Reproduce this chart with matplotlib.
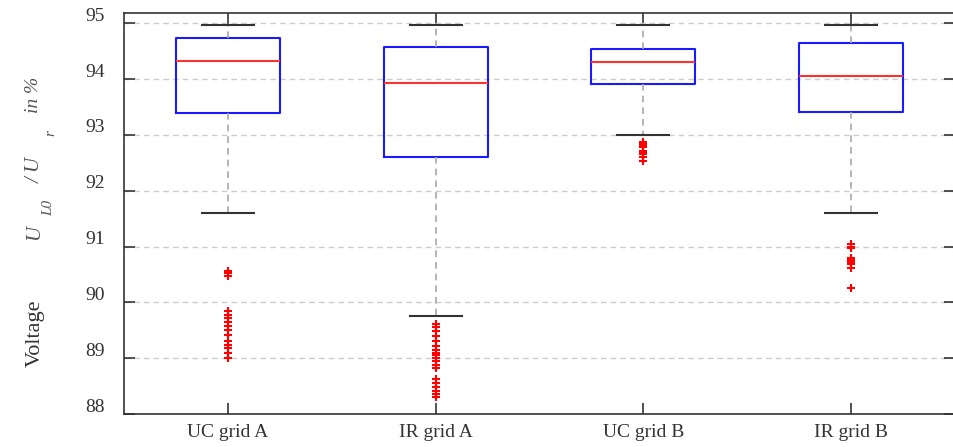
import numpy as np
import matplotlib
matplotlib.use('Agg')
import matplotlib.pyplot as plt
from matplotlib.transforms import ScaledTranslation

plt.rcParams['font.family'] = ['Liberation Serif', 'DejaVu Serif']

# data (voltage in %)
labels = ['UC grid A', 'IR grid A', 'UC grid B', 'IR grid B']
medians = [94.33, 93.94, 94.30, 94.06]
q1 = [93.39, 92.61, 93.91, 93.42]
q3 = [94.73, 94.57, 94.54, 94.64]
whis_low = [91.61, 89.75, 93.00, 91.61]
whis_high = [94.97, 94.97, 94.97, 94.97]
outliers_uc_a = [90.57, 90.52, 90.47, 89.85, 89.78, 89.72, 89.65, 89.58, 89.50,
                 89.42, 89.30, 89.24, 89.18, 89.10, 89.00]
outliers_ir_a = [89.62, 89.55, 89.48, 89.40, 89.30, 89.22, 89.15, 89.10, 89.05,
                 89.00, 88.95, 88.88, 88.83, 88.62, 88.55, 88.48, 88.42, 88.36, 88.30]
outliers_uc_b = [92.88, 92.84, 92.81, 92.78, 92.72, 92.69, 92.66, 92.60, 92.53]
outliers_ir_b = [91.04, 91.00, 90.97, 90.80, 90.77, 90.74, 90.71, 90.68, 90.62, 90.25]
outliers = [outliers_uc_a, outliers_ir_a, outliers_uc_b, outliers_ir_b]

stats = []
for i in range(len(labels)):
    stats.append(dict(med=medians[i], q1=q1[i], q3=q3[i],
                      whislo=whis_low[i], whishi=whis_high[i],
                      fliers=outliers[i], label=labels[i]))

fig = plt.figure(figsize=(9.54, 4.47), dpi=100)
ax = fig.add_axes([124 / 954, 1 - 414 / 447, 831 / 954, 400.7 / 447])

ax.bxp(stats, positions=[1, 2, 3, 4], widths=0.5, showfliers=True,
       boxprops=dict(color='#1a1aff', linewidth=1.5),
       medianprops=dict(color='#ff3030', linewidth=1.5),
       whiskerprops=dict(color='#a8a8a8', linewidth=1.2, linestyle=(0, (4, 3))),
       capprops=dict(color='#333333', linewidth=1.5),
       capwidths=0.25,
       flierprops=dict(marker='+', markeredgecolor='red', markersize=6,
                       markeredgewidth=1.5, linestyle='none'))

ax.set_xlim(0.5, 4.5)
ax.set_ylim(88.03, 95.18)
ax.set_yticks(np.arange(88, 96, 1))
ax.yaxis.grid(True, color='#cccccc', linestyle=(0, (4, 3)), linewidth=1)
ax.set_axisbelow(True)

for sp in ax.spines.values():
    sp.set_color('#333333')
    sp.set_linewidth(1.2)

ax.tick_params(axis='both', direction='in', length=8, width=1.2, color='#333333',
               top=True, right=True, labelsize=14, labelcolor='#333333')
ax.tick_params(axis='y', pad=14)
ax.tick_params(axis='x', pad=7)
for t in ax.get_yticklabels():
    t.set_transform(t.get_transform() + ScaledTranslation(0, 9 / 100, fig.dpi_scale_trans))

# y label pieces, placed as in the original export
fig.text(35 / 954, 1 - 333 / 447, 'Voltage', rotation=90, ha='center', va='center',
         fontsize=16, color='#333333')
fig.text(35 / 954, 1 - 232 / 447, 'U', rotation=90, ha='center', va='center',
         fontsize=15, color='#555555', style='italic')
fig.text(49 / 954, 1 - 208 / 447, 'L0', rotation=90, ha='center', va='center',
         fontsize=11, color='#555555', style='italic')
fig.text(35 / 954, 1 - 170 / 447, '/ U', rotation=90, ha='center', va='center',
         fontsize=15, color='#555555', style='italic')
fig.text(51 / 954, 1 - 133 / 447, 'r', rotation=90, ha='center', va='center',
         fontsize=11, color='#555555', style='italic')
fig.text(34 / 954, 1 - 95 / 447, 'in %', rotation=90, ha='center', va='center',
         fontsize=14, color='#555555', style='italic')

fig.savefig('out.png', dpi=100)
